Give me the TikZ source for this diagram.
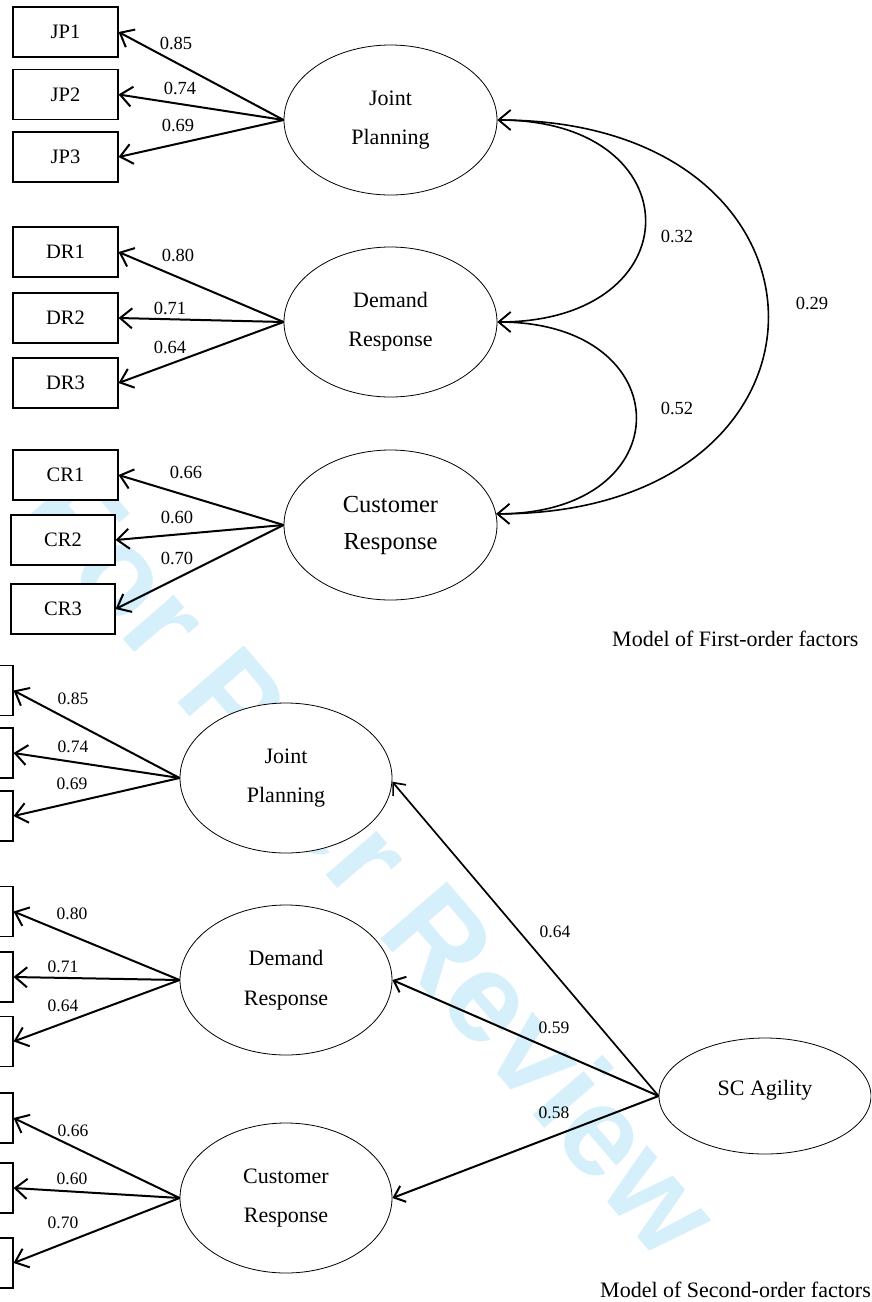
\documentclass[tikz,border=0pt]{standalone}
\usepackage{fontspec}
\setmainfont{Liberation Serif}
\newfontfamily\wmfont{Liberation Sans}
\usetikzlibrary{arrows.meta,shapes.geometric}
\definecolor{wmblue}{RGB}{213,239,251}

\begin{document}
\begin{tikzpicture}[x=1pt,y=-1pt,
  indic/.style={draw, fill=white, line width=1.1pt, minimum width=105pt, minimum height=50pt,
    inner sep=0pt, font=\fontsize{20.5}{20.5}\selectfont},
  latent/.style={draw, fill=white, ellipse, line width=0.8pt, minimum width=213pt, minimum height=150pt,
    inner sep=0pt, align=center, font=\fontsize{22}{39}\selectfont},
  load/.style={line width=2pt, -{Straight Barb[length=12pt,width=20pt]}},
  cov/.style={line width=1.6pt, {Straight Barb[length=12pt,width=20pt]}-{Straight Barb[length=12pt,width=20pt]}},
  path2/.style={line width=2pt, -{Straight Barb[length=10pt,width=17pt]}},
  coefA/.style={inner sep=0pt, font=\fontsize{18.5}{18.5}\selectfont},
  coefB/.style={inner sep=0pt, font=\fontsize{17.5}{17.5}\selectfont},
  caption/.style={inner sep=0pt, anchor=base west, font=\fontsize{22}{22}\selectfont},
  wm/.style={inner sep=0pt, text=wmblue, font=\wmfont\bfseries\fontsize{127}{127}\selectfont}
]
\useasboundingbox (0,0) rectangle (871,1302);
\clip (0,0) rectangle (871,1302);
\fill[white] (0,0) rectangle (871,1302);

% review stamp behind the drawing
\node[wm, rotate=-49.3] (stamp) at (373,860) {For Peer Review};

% ---------- first-order model ----------
\node[indic] (JP1) at (65.5,32)   {JP1};
\node[indic] (JP2) at (65.5,94.5) {JP2};
\node[indic] (JP3) at (65.5,157)  {JP3};
\node[indic] (DR1) at (65.5,252)  {DR1};
\node[indic] (DR2) at (65.5,318)  {DR2};
\node[indic] (DR3) at (65.5,383)  {DR3};
\node[indic] (CR1) at (65.5,475)  {CR1};
\node[indic, minimum width=104pt] (CR2) at (63,540) {CR2};
\node[indic, minimum width=104pt] (CR3) at (63,609) {CR3};

\node[latent] (JPt) at (390.5,120) {Joint\\Planning};
\node[latent] (DRt) at (390.5,322) {Demand\\Response};
\node[latent, font=\fontsize{24.5}{37}\selectfont] (CRt) at (390.5,525) {Customer\\Response};

\draw[load] (JPt.west) -- (JP1.east);
\draw[load] (JPt.west) -- (JP2.east);
\draw[load] (JPt.west) -- (JP3.east);
\draw[load] (DRt.west) -- (DR1.east);
\draw[load] (DRt.west) -- (DR2.east);
\draw[load] (DRt.west) -- (DR3.east);
\draw[load] (CRt.west) -- (CR1.east);
\draw[load] (CRt.west) -- (CR2.east);
\draw[load] (CRt.west) -- (CR3.east);

\node[coefA] (a1) at (176,43)  {0.85};
\node[coefA] (a2) at (180,88)  {0.74};
\node[coefA] (a3) at (178,125) {0.69};
\node[coefA] (a4) at (178,255) {0.80};
\node[coefA] (a5) at (170,308) {0.71};
\node[coefA] (a6) at (170,347) {0.64};
\node[coefA] (a7) at (186,472) {0.66};
\node[coefA] (a8) at (177,517) {0.60};
\node[coefA] (a9) at (177,558) {0.70};

% correlations between the first-order factors
\draw[cov] (DRt.east) .. controls +(197,0) and +(197,0) .. (JPt.east);
\draw[cov] (CRt.6) .. controls +(187,0) and +(184,0) .. (DRt.east);
\draw[cov] (CRt.6) .. controls +(363,0) and +(360,0) .. (JPt.east);

\node[coefA] (c1) at (677,236) {0.32};
\node[coefA] (c2) at (677,408) {0.52};
\node[coefA] (c3) at (812,303) {0.29};

\node[caption] (cap1) at (612,646) {Model of First-order factors};

% ---------- second-order model ----------
\node[indic] (b1) at (-39.5,690.5) {};
\node[indic] (b2) at (-39.5,753)   {};
\node[indic] (b3) at (-39.5,816)   {};
\node[indic] (b4) at (-39.5,911.5) {};
\node[indic] (b5) at (-39.5,977)   {};
\node[indic] (b6) at (-39.5,1041.5){};
\node[indic] (b7) at (-39.5,1118)  {};
\node[indic] (b8) at (-39.5,1188)  {};
\node[indic] (b9) at (-39.5,1263)  {};

\node[latent, minimum width=212pt] (JPb) at (286,778)  {Joint\\Planning};
\node[latent, minimum width=212pt, font=\fontsize{22}{40}\selectfont] (DRb) at (286,980)  {Demand\\Response};
\node[latent, minimum width=212pt] (CRb) at (286,1198) {Customer\\Response};
\node[latent, minimum width=212pt, minimum height=116pt] (SCA) at (765,1096) {\raisebox{16pt}{SC Agility}};

\draw[load] (JPb.west) -- (b1.east);
\draw[load] (JPb.west) -- (b2.east);
\draw[load] (JPb.west) -- (b3.east);
\draw[load] (DRb.west) -- (b4.east);
\draw[load] (DRb.west) -- (b5.east);
\draw[load] (DRb.west) -- (b6.east);
\draw[load] (CRb.west) -- (b7.east);
\draw[load] (CRb.west) -- (b8.east);
\draw[load] (CRb.west) -- (b9.east);

\node[coefB] (d1) at (73,699)  {0.85};
\node[coefB] (d2) at (73,747)  {0.74};
\node[coefB] (d3) at (72,784)  {0.69};
\node[coefB] (d4) at (72,914)  {0.80};
\node[coefB] (d5) at (63,967)  {0.71};
\node[coefB] (d6) at (63,1006) {0.64};
\node[coefB] (d7) at (73,1131) {0.66};
\node[coefB] (d8) at (72,1179) {0.60};
\node[coefB] (d9) at (63,1223) {0.70};

\draw[path2, line width=1.7pt] (SCA.west) -- (JPb.-2);
\draw[path2] (SCA.west) -- (DRb.east);
\draw[path2] (SCA.west) -- (CRb.east);

\node[coefB] (e1) at (555,932)  {0.64};
\node[coefB] (e2) at (554,1028) {0.59};
\node[coefB] (e3) at (554,1113) {0.58};

\node[caption] (cap2) at (600,1297) {Model of Second-order factors};
\end{tikzpicture}
\end{document}
